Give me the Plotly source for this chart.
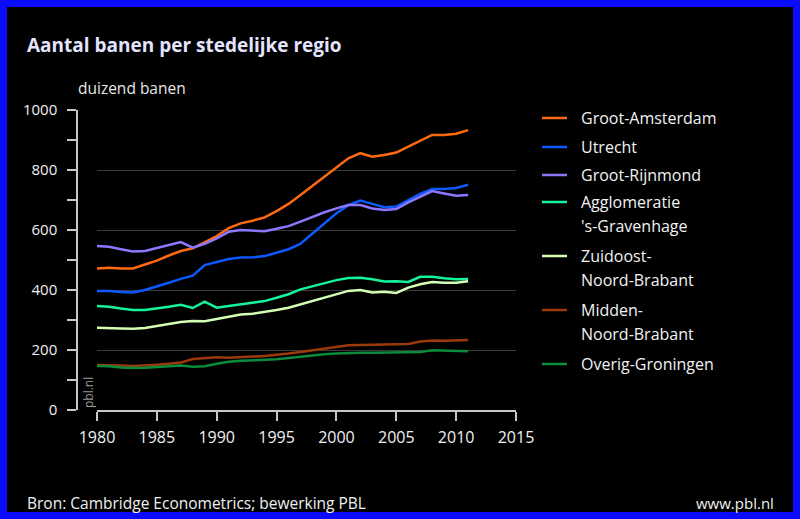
import plotly.graph_objects as go

years = list(range(1980, 2012))

series_names = [
    "Groot-Amsterdam",
    "Utrecht",
    "Groot-Rijnmond",
    "Agglomeratie 's-Gravenhage",
    "Zuidoost-Noord-Brabant",
    "Midden-Noord-Brabant",
    "Overig-Groningen",
]
legend_lines = [
    ["Groot-Amsterdam"],
    ["Utrecht"],
    ["Groot-Rijnmond"],
    ["Agglomeratie", "'s-Gravenhage"],
    ["Zuidoost-", "Noord-Brabant"],
    ["Midden-", "Noord-Brabant"],
    ["Overig-Groningen"],
]
colors = ["#ff6a10", "#0a5aff", "#8c78ff", "#14f59b", "#d2ffb4", "#9a3a0a", "#0a8c3c"]

groot_amsterdam = [472, 474, 472, 472, 485, 498, 515, 530, 539, 559, 580, 606, 622, 631, 642, 663,
                   687, 717, 748, 780, 811, 839, 856, 844, 850, 858, 878, 898, 917, 917, 921, 933]
utrecht = [397, 397, 393, 392, 400, 411, 424, 437, 448, 483, 493, 503, 508, 509, 513, 524,
           536, 554, 587, 622, 656, 683, 698, 687, 676, 678, 700, 720, 737, 737, 740, 751]
groot_rijnmond = [547, 544, 536, 528, 530, 540, 550, 560, 541, 554, 572, 594, 600, 598, 596, 604,
                  613, 628, 644, 659, 672, 683, 683, 672, 667, 670, 692, 711, 730, 722, 714, 717]
agglomeratie = [347, 344, 338, 333, 333, 338, 344, 351, 340, 361, 341, 347, 353, 359, 363, 374,
                386, 402, 413, 424, 433, 440, 441, 436, 428, 429, 427, 444, 444, 439, 436, 437]
zuidoost = [274, 274, 272, 271, 273, 280, 287, 293, 297, 296, 303, 311, 318, 321, 326, 333,
            341, 352, 364, 376, 387, 397, 400, 392, 394, 390, 408, 419, 427, 424, 424, 429]
midden = [150, 150, 148, 147, 148, 151, 154, 158, 170, 173, 176, 174, 177, 178, 180, 183,
          188, 193, 199, 206, 211, 216, 217, 218, 218, 219, 220, 228, 232, 231, 231, 233]
overig_groningen = [147, 146, 142, 140, 141, 143, 146, 148, 144, 146, 154, 161, 164, 166, 166, 169,
                    173, 178, 182, 186, 188, 190, 191, 191, 191, 191, 192, 193, 199, 198, 196, 196]

values = [groot_amsterdam, utrecht, groot_rijnmond, agglomeratie, zuidoost, midden, overig_groningen]

title_text = "Aantal banen per stedelijke regio"
unit_text = "duizend banen"
source_text = "Bron: Cambridge Econometrics; bewerking PBL"
site_text = "www.pbl.nl"

# ---- layout geometry (pixels) ----
W, H = 800, 519
ML, MR, MT, MB = 77, 284, 110, 109
PW = W - ML - MR
PH = H - MT - MB


def px(x):
    return (x - ML) / PW


def py(y):
    return (H - MB - y) / PH


FONT = "Open Sans"

fig = go.Figure()
for name, vals, col in zip(series_names, values, colors):
    fig.add_trace(go.Scatter(x=years, y=vals, name=name, mode="lines",
                             line=dict(color=col, width=2.5), showlegend=False))

annotations = [
    dict(text=title_text, x=px(25), y=py(45), xanchor="left", yanchor="middle",
         font=dict(family=FONT, size=19, color="#e4e4ff", weight="bold")),
    dict(text=unit_text, x=px(76), y=py(88), xanchor="left", yanchor="middle",
         font=dict(family=FONT, size=15.5, color="#e6e6e6")),
    dict(text="pbl.nl", x=px(88), y=py(393), xanchor="center", yanchor="middle", textangle=-90,
         font=dict(family=FONT, size=12, color="#9a9a9a")),
    dict(text=source_text, x=px(25), y=py(503), xanchor="left", yanchor="middle",
         font=dict(family=FONT, size=15.5, color="#f0f0f0")),
    dict(text=site_text, x=px(776), y=py(503), xanchor="right", yanchor="middle",
         font=dict(family=FONT, size=15, color="#f0f0f0")),
]

shapes = [
    dict(type="rect", xref="paper", yref="paper", x0=px(3.5), x1=px(W - 3.5), y0=py(3.5), y1=py(H - 3.5),
         line=dict(color="#0a0aff", width=7), layer="above"),
]

legend_y = [118, 147, 175, 202, 256, 310, 364]
for lines, col, ly in zip(legend_lines, colors, legend_y):
    shapes.append(dict(type="line", xref="paper", yref="paper", x0=px(542), x1=px(567),
                       y0=py(ly), y1=py(ly), line=dict(color=col, width=2.5)))
    for i, t in enumerate(lines):
        annotations.append(dict(text=t, x=px(579), y=py(ly + 24 * i), xanchor="left", yanchor="middle",
                                font=dict(family=FONT, size=16, color="#f2f2f2")))

for a in annotations:
    a.update(xref="paper", yref="paper", showarrow=False)

fig.update_layout(
    width=W, height=H,
    margin=dict(l=ML, r=MR, t=MT, b=MB, autoexpand=False),
    paper_bgcolor="#000000", plot_bgcolor="#000000",
    font=dict(family=FONT, color="#f0f0f0"),
    showlegend=False,
    annotations=annotations,
    shapes=shapes,
    xaxis=dict(domain=[px(97), 1], range=[1980, 2015], dtick=5, tick0=1980,
               showline=True, linecolor="#c8c8c8", linewidth=1.5,
               ticks="outside", ticklen=9, tickwidth=1.5, tickcolor="#c8c8c8",
               showgrid=False, zeroline=False, ticklabelstandoff=3,
               tickfont=dict(family=FONT, size=16, color="#f0f0f0")),
    yaxis=dict(anchor="free", position=0, range=[0, 1000], dtick=200, tick0=0,
               showline=True, linecolor="#c8c8c8", linewidth=1.5,
               ticks="outside", ticklen=9, tickwidth=1.5, tickcolor="#c8c8c8",
               showgrid=True, gridcolor="#3a3a3a", gridwidth=1, zeroline=False,
               minor=dict(dtick=100, ticks="outside", ticklen=9, tickwidth=1.5,
                          tickcolor="#c8c8c8", showgrid=False),
               ticklabelstandoff=7,
               tickfont=dict(family=FONT, size=15, color="#f0f0f0")),
)

fig.write_html("out.html", config={"displayModeBar": False},
               post_script="document.body.style.margin='0';document.body.style.overflow='hidden';")
